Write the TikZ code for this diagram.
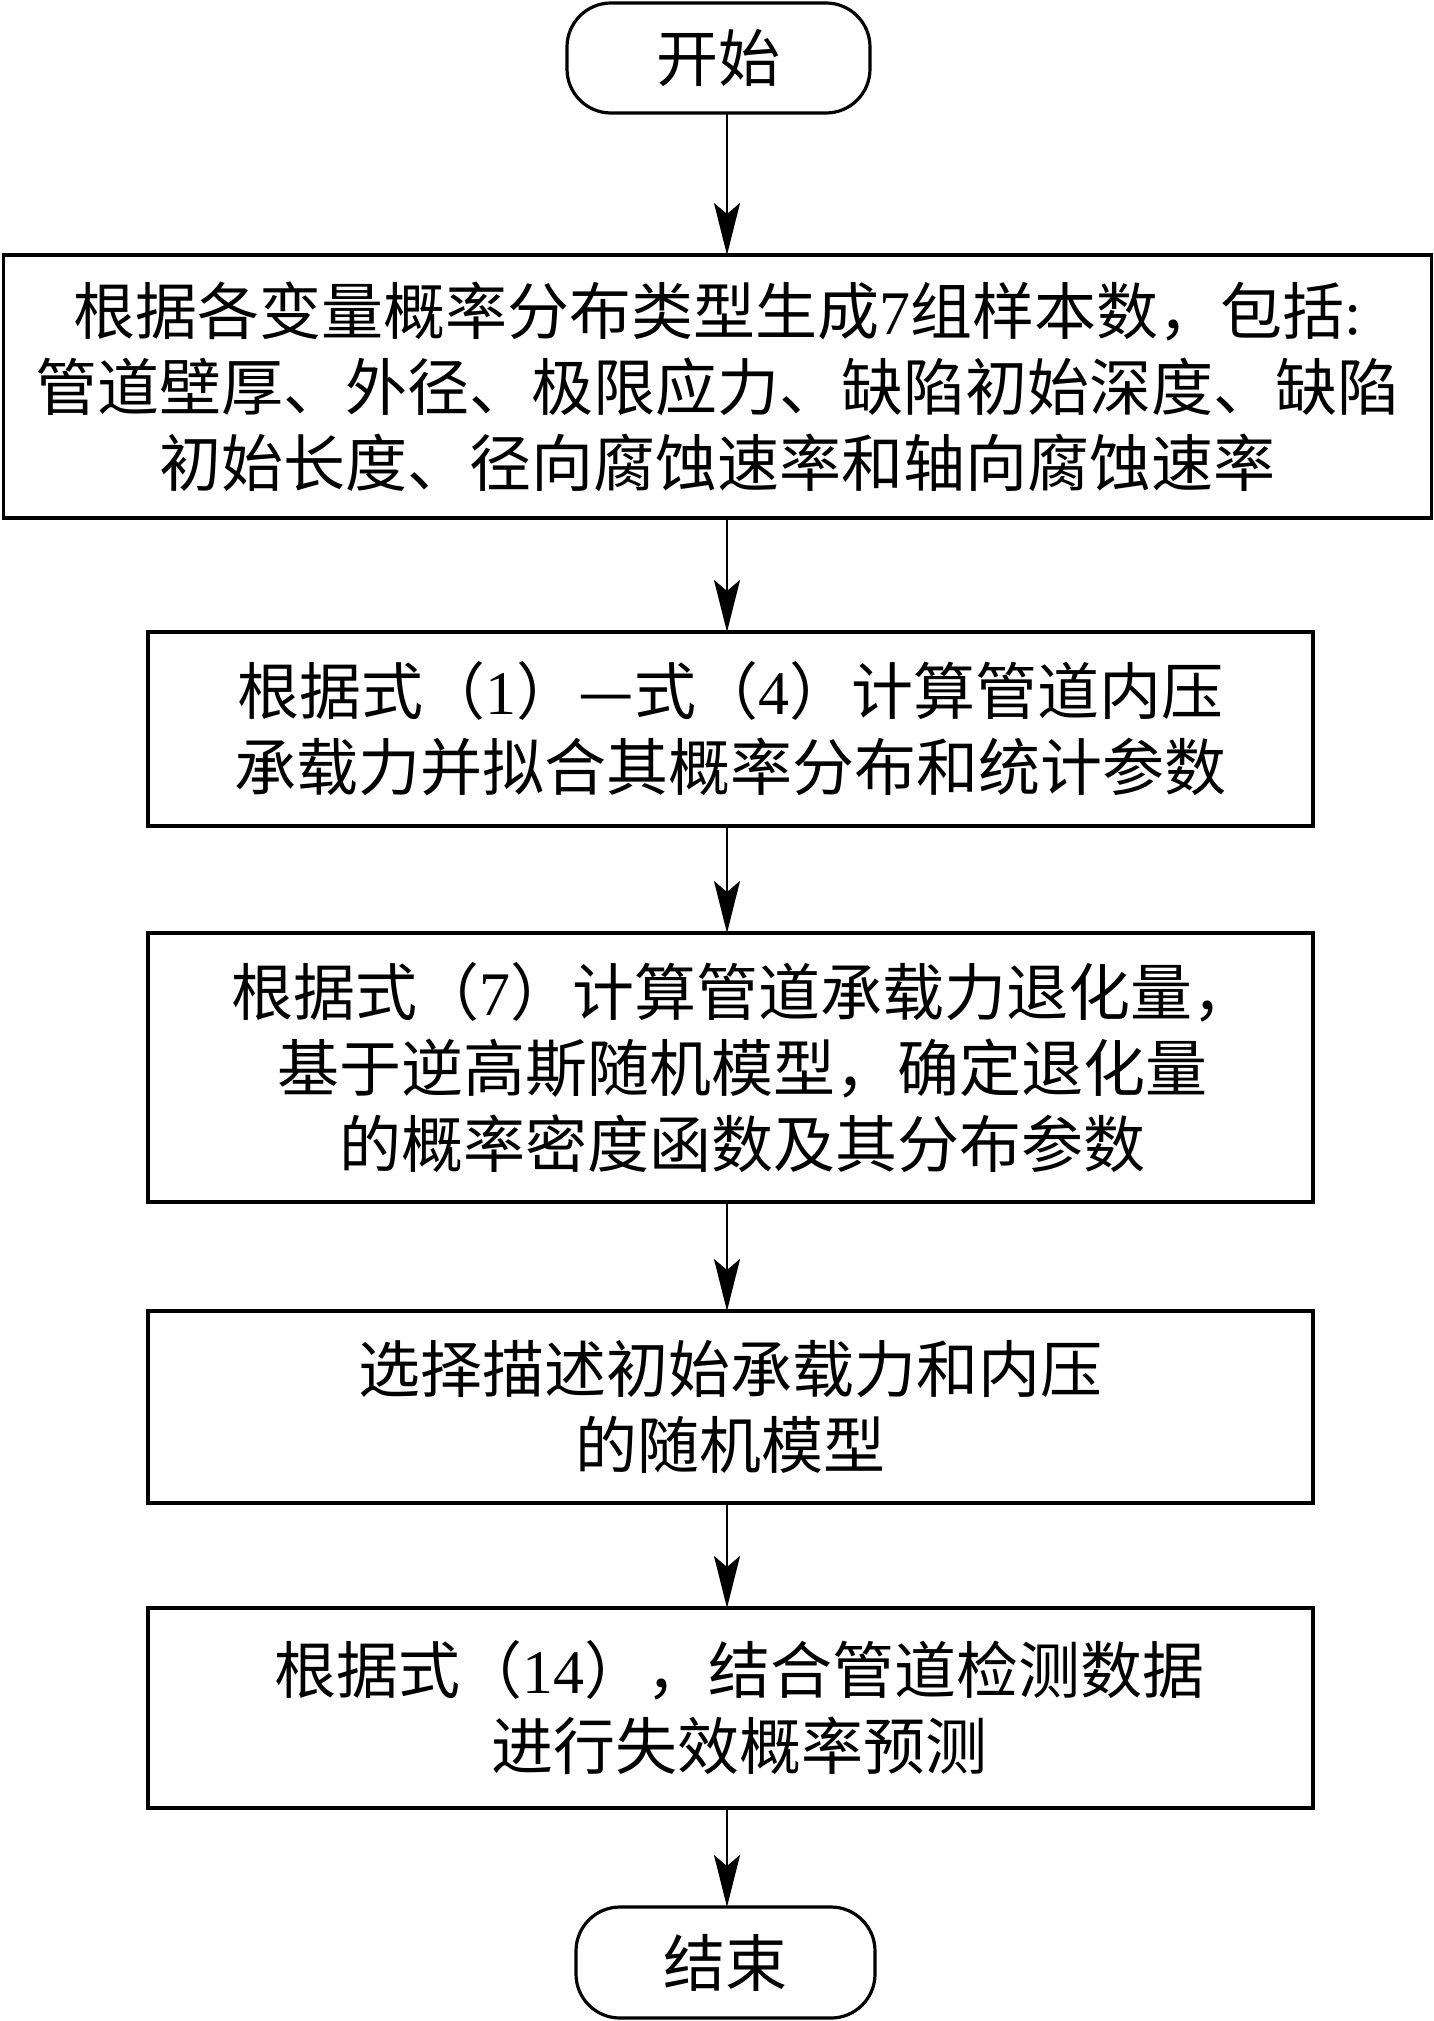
\documentclass[tikz,border=0pt]{standalone}
\usepackage{fontspec}
\newfontfamily\cjk{Noto Sans CJK SC}
\newfontfamily\tm{Liberation Serif}
\usetikzlibrary{arrows.meta}
\begin{document}
\begin{tikzpicture}[x=1pt,y=-1pt,
  every node/.style={outer sep=0pt, inner sep=0pt},
  stepbox/.style={draw, line width=3.4pt, rectangle, align=center,
    font=\cjk\fontsize{62}{76}\selectfont},
  term/.style={draw, line width=3.2pt, rectangle, rounded corners=44pt, align=center,
    font=\cjk\fontsize{62}{76}\selectfont},
  arr/.style={line width=2.8pt, -{Stealth[length=52pt, width=26pt, inset=11pt]}}
]
\useasboundingbox (0,0) rectangle (1434,2021);
\coordinate (ax) at (727,0);

\node[term, minimum width=303pt, minimum height=110pt] (start) at (718.5,58) {开始};

\node[stepbox, minimum width=1428pt, minimum height=263pt] (b1) at (717.5,386.5)
  {根据各变量概率分布类型生成{\tm 7}组样本数，包括{\tm :}\\
   管道壁厚、外径、极限应力、缺陷初始深度、缺陷\\
   初始长度、径向腐蚀速率和轴向腐蚀速率};

\node[stepbox, minimum width=1165pt, minimum height=194pt] (b2) at (730.5,729)
  {根据式（{\tm 1}）—式（{\tm 4}）计算管道内压\\
   承载力并拟合其概率分布和统计参数};

\node[stepbox, minimum width=1165pt, minimum height=269pt] (b3) at (730.5,1067.5)
  {\hspace*{24pt}根据式（{\tm 7}）计算管道承载力退化量，\\
   \hspace*{24pt}基于逆高斯随机模型，确定退化量\\
   \hspace*{24pt}的概率密度函数及其分布参数};

\node[stepbox, minimum width=1165pt, minimum height=192pt] (b4) at (730.5,1407)
  {选择描述初始承载力和内压\\
   的随机模型};

\node[stepbox, minimum width=1165pt, minimum height=200pt] (b5) at (730.5,1708)
  {\hspace*{18pt}根据式（{\tm 14}），结合管道检测数据\\
   \hspace*{18pt}进行失效概率预测};

\node[term, minimum width=299pt, minimum height=111pt] (end) at (725.5,1962.5) {结束};

\draw[arr] (start.south -| ax) -- (b1.north -| ax);
\draw[arr] (b1.south -| ax) -- (b2.north -| ax);
\draw[arr] (b2.south -| ax) -- (b3.north -| ax);
\draw[arr] (b3.south -| ax) -- (b4.north -| ax);
\draw[arr] (b4.south -| ax) -- (b5.north -| ax);
\draw[arr] (b5.south -| ax) -- (end.north -| ax);
\end{tikzpicture}
\end{document}
